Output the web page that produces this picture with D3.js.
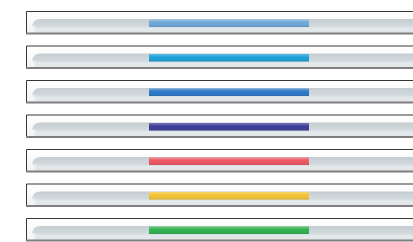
<!DOCTYPE html>
<html>
<head>
<meta charset="utf-8">
<script src="https://cdn.jsdelivr.net/npm/d3@7"></script>
<style>
  body { margin: 0; background: #fff; }
  svg { display: block; }
</style>
</head>
<body>
<script>
// one slider per colour, each showing the selected range
var names = ['lightblue', 'cyan', 'blue', 'indigo', 'red', 'yellow', 'green'];
var colors = ['#6aa6d6', '#1c9fd8', '#2b76c6', '#3b3d98', '#ec5560', '#f2c230', '#2fb04e'];
var rangeStart = [30, 30, 30, 30, 30, 30, 30];
var rangeEnd = [70, 70, 70, 70, 70, 70, 70];

var width = 413;
var height = 242;

var svg = d3.select('body')
  .append('svg')
  .attr('width', width)
  .attr('height', height);

// value scale along the track (runs past the right edge, like the picture)
var x = d3.scaleLinear()
  .domain([0, 100])
  .range([29, 429]);

// one band per slider
var y = d3.scaleBand()
  .domain(names)
  .range([11, 11 + 34.5 * 7]);

var defs = svg.append('defs');

var track = defs.append('linearGradient')
  .attr('id', 'track')
  .attr('x1', 0).attr('y1', 0).attr('x2', 0).attr('y2', 1);
track.append('stop').attr('offset', '0%').attr('stop-color', '#c6cdd2');
track.append('stop').attr('offset', '50%').attr('stop-color', '#d2d9dc');
track.append('stop').attr('offset', '70%').attr('stop-color', '#e4e9eb');
track.append('stop').attr('offset', '100%').attr('stop-color', '#e0e5e7');

var frame = defs.append('linearGradient')
  .attr('id', 'frame')
  .attr('x1', 0).attr('y1', 0).attr('x2', 0).attr('y2', 1);
frame.append('stop').attr('offset', '0%').attr('stop-color', '#ffffff');
frame.append('stop').attr('offset', '100%').attr('stop-color', '#f1f3f4');

var edge = defs.append('linearGradient')
  .attr('id', 'edge')
  .attr('x1', 0).attr('y1', 0).attr('x2', 1).attr('y2', 0);
edge.append('stop').attr('offset', '0%').attr('stop-color', '#fff').attr('stop-opacity', 0.7);
edge.append('stop').attr('offset', '100%').attr('stop-color', '#fff').attr('stop-opacity', 0);

var shine = defs.append('linearGradient')
  .attr('id', 'shine')
  .attr('x1', 0).attr('y1', 0).attr('x2', 0).attr('y2', 1);
shine.append('stop').attr('offset', '0%').attr('stop-color', '#fff').attr('stop-opacity', 0.3);
shine.append('stop').attr('offset', '45%').attr('stop-color', '#fff').attr('stop-opacity', 0);
shine.append('stop').attr('offset', '100%').attr('stop-color', '#000').attr('stop-opacity', 0.12);

var slider = svg.selectAll('g.slider')
  .data(names)
  .enter()
  .append('g')
  .attr('class', 'slider')
  .attr('transform', function (d) { return 'translate(0,' + y(d) + ')'; });

// outer frame
slider.append('rect')
  .attr('x', x(0) - 2.5)
  .attr('y', 0.5)
  .attr('width', 440)
  .attr('height', 22)
  .attr('fill', 'url(#frame)');

// rounded track
var tx = x(0) + 3;
var r = 9;
slider.append('path')
  .attr('d', 'M' + tx + ',22 L' + tx + ',' + (8 + r) +
    ' Q' + tx + ',8 ' + (tx + r) + ',8 L440,8 L440,22 Z')
  .attr('fill', 'url(#track)');

// soft highlight on the rounded end
slider.append('rect')
  .attr('x', tx)
  .attr('y', 15)
  .attr('width', 5)
  .attr('height', 7)
  .attr('fill', 'url(#edge)');

// selected range
slider.append('rect')
  .attr('x', function (d, i) { return x(rangeStart[i]); })
  .attr('y', 8.5)
  .attr('width', function (d, i) { return x(rangeEnd[i]) - x(rangeStart[i]); })
  .attr('height', 7.5)
  .attr('fill', function (d, i) { return colors[i]; });

slider.append('rect')
  .attr('x', function (d, i) { return x(rangeStart[i]); })
  .attr('y', 8.5)
  .attr('width', function (d, i) { return x(rangeEnd[i]) - x(rangeStart[i]); })
  .attr('height', 7.5)
  .attr('fill', 'url(#shine)');

// borders: dark top and left, grey bottom
slider.append('path')
  .attr('d', 'M' + (x(0) - 2.5) + ',22.5 L' + (x(0) - 2.5) + ',0.5 L440,0.5')
  .attr('fill', 'none')
  .attr('stroke', '#3a3536')
  .attr('stroke-width', 1);

slider.append('line')
  .attr('x1', x(0) - 3)
  .attr('x2', 440)
  .attr('y1', 22.5)
  .attr('y2', 22.5)
  .attr('stroke', '#827d7e')
  .attr('stroke-width', 2);
</script>
</body>
</html>
